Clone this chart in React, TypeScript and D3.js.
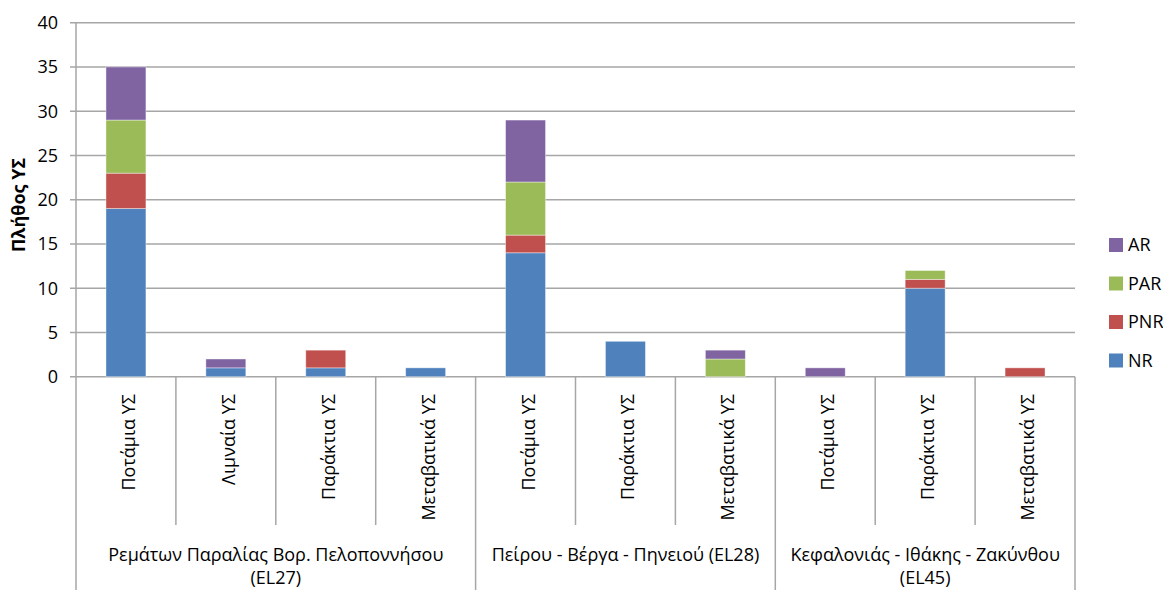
import React from "react";
import * as d3 from "d3";

const categories = [
  "Ποτάμια ΥΣ", "Λιμναία ΥΣ", "Παράκτια ΥΣ", "Μεταβατικά ΥΣ",
  "Ποτάμια ΥΣ", "Παράκτια ΥΣ", "Μεταβατικά ΥΣ",
  "Ποτάμια ΥΣ", "Παράκτια ΥΣ", "Μεταβατικά ΥΣ",
];
const groups = [
  { lines: ["Ρεμάτων Παραλίας Βορ. Πελοποννήσου", "(EL27)"], start: 0, count: 4 },
  { lines: ["Πείρου - Βέργα - Πηνειού (EL28)"], start: 4, count: 3 },
  { lines: ["Κεφαλονιάς - Ιθάκης - Ζακύνθου", "(EL45)"], start: 7, count: 3 },
];
const seriesNames = ["NR", "PNR", "PAR", "AR"];
const NR = [19, 1, 1, 1, 14, 4, 0, 0, 10, 0];
const PNR = [4, 0, 2, 0, 2, 0, 0, 0, 1, 1];
const PAR = [6, 0, 0, 0, 6, 0, 2, 0, 1, 0];
const AR = [6, 1, 0, 0, 7, 0, 1, 1, 0, 0];
const yTicks = [0, 5, 10, 15, 20, 25, 30, 35, 40];
const colors: Record<string, string> = { NR: "#4F81BD", PNR: "#C0504D", PAR: "#9BBB59", AR: "#8064A2" };

const W = 1163, H = 590;
const left = 76, right = 1075, top = 22.7, bottom = 376.7;
const FONT = "'Open Sans', Lato, sans-serif";
const FS = 18;

export default function App() {
  const values: Record<string, number[]> = { NR, PNR, PAR, AR };
  const rows = categories.map((c, i) => {
    const r: any = { i };
    seriesNames.forEach((s) => (r[s] = values[s][i]));
    return r;
  });
  const stack = d3.stack<any>().keys(seriesNames)(rows);
  const idx = d3.range(categories.length);
  const x = d3.scaleBand<number>().domain(idx).range([left, right]).paddingInner(0.6).paddingOuter(0.3);
  const xb = d3.scaleBand<number>().domain(idx).range([left, right]);
  const y = d3.scaleLinear().domain([0, 40]).range([bottom, top]);
  const grid = "#a6a6a6";

  return (
    <svg width={W} height={H} style={{ position: "absolute", left: 0, top: 0, background: "#fff" }} fontFamily={FONT}>
      {yTicks.map((t) => (
        <g key={t}>
          <line x1={left - 6} x2={right} y1={y(t)} y2={y(t)} stroke={grid} strokeWidth={1.5} />
          <text x={58} y={y(t)} dy="0.35em" textAnchor="end" fontSize={FS} fill="#000">{t}</text>
        </g>
      ))}
      <line x1={left} x2={left} y1={top} y2={H} stroke={grid} strokeWidth={1.5} />
      {stack.map((layer) => (
        <g key={layer.key} fill={colors[layer.key]}>
          {layer.map((d, i) =>
            d[1] - d[0] > 0 ? (
              <rect key={i} x={x(i)} width={x.bandwidth()} y={y(d[1])} height={y(d[0]) - y(d[1])}
                stroke="#ffffff" strokeOpacity={0.5} strokeWidth={0.8} />
            ) : null
          )}
        </g>
      ))}
      {idx.map((i) => {
        const isGroupStart = groups.some((g) => g.start === i);
        const xx = xb(i)!;
        return i === 0 ? null : (
          <line key={"s" + i} x1={xx} x2={xx} y1={bottom} y2={isGroupStart ? H : 525} stroke={grid} strokeWidth={1.5} />
        );
      })}
      <line x1={right} x2={right} y1={bottom} y2={H} stroke={grid} strokeWidth={1.5} />
      {categories.map((c, i) => {
        const cx = xb(i)! + xb.bandwidth() / 2 + 9;
        return (
          <text key={"c" + i} transform={`translate(${cx},394) rotate(-90)`} textAnchor="end" fontSize={FS} fill="#000">{c}</text>
        );
      })}
      {groups.map((g, gi) => {
        const x0 = xb(g.start)!;
        const x1 = xb(g.start + g.count - 1)! + xb.bandwidth();
        const cx = (x0 + x1) / 2;
        return (
          <text key={"g" + gi} x={cx} y={561} textAnchor="middle" fontSize={FS} fill="#000">
            {g.lines.map((l, li) => (
              <tspan key={li} x={cx} dy={li === 0 ? 0 : 23}>{l}</tspan>
            ))}
          </text>
        );
      })}
      <text transform="translate(25,205) rotate(-90)" textAnchor="middle" fontSize={FS} fontWeight="bold" fill="#000">Πλήθος ΥΣ</text>
      {["AR", "PAR", "PNR", "NR"].map((s, i) => (
        <g key={s} transform={`translate(1109,${245 + i * 38.5})`}>
          <rect x={0} y={-7} width={14} height={14} fill={colors[s]} />
          <text x={19} y={0} dy="0.35em" fontSize={FS} fill="#000">{s}</text>
        </g>
      ))}
    </svg>
  );
}
